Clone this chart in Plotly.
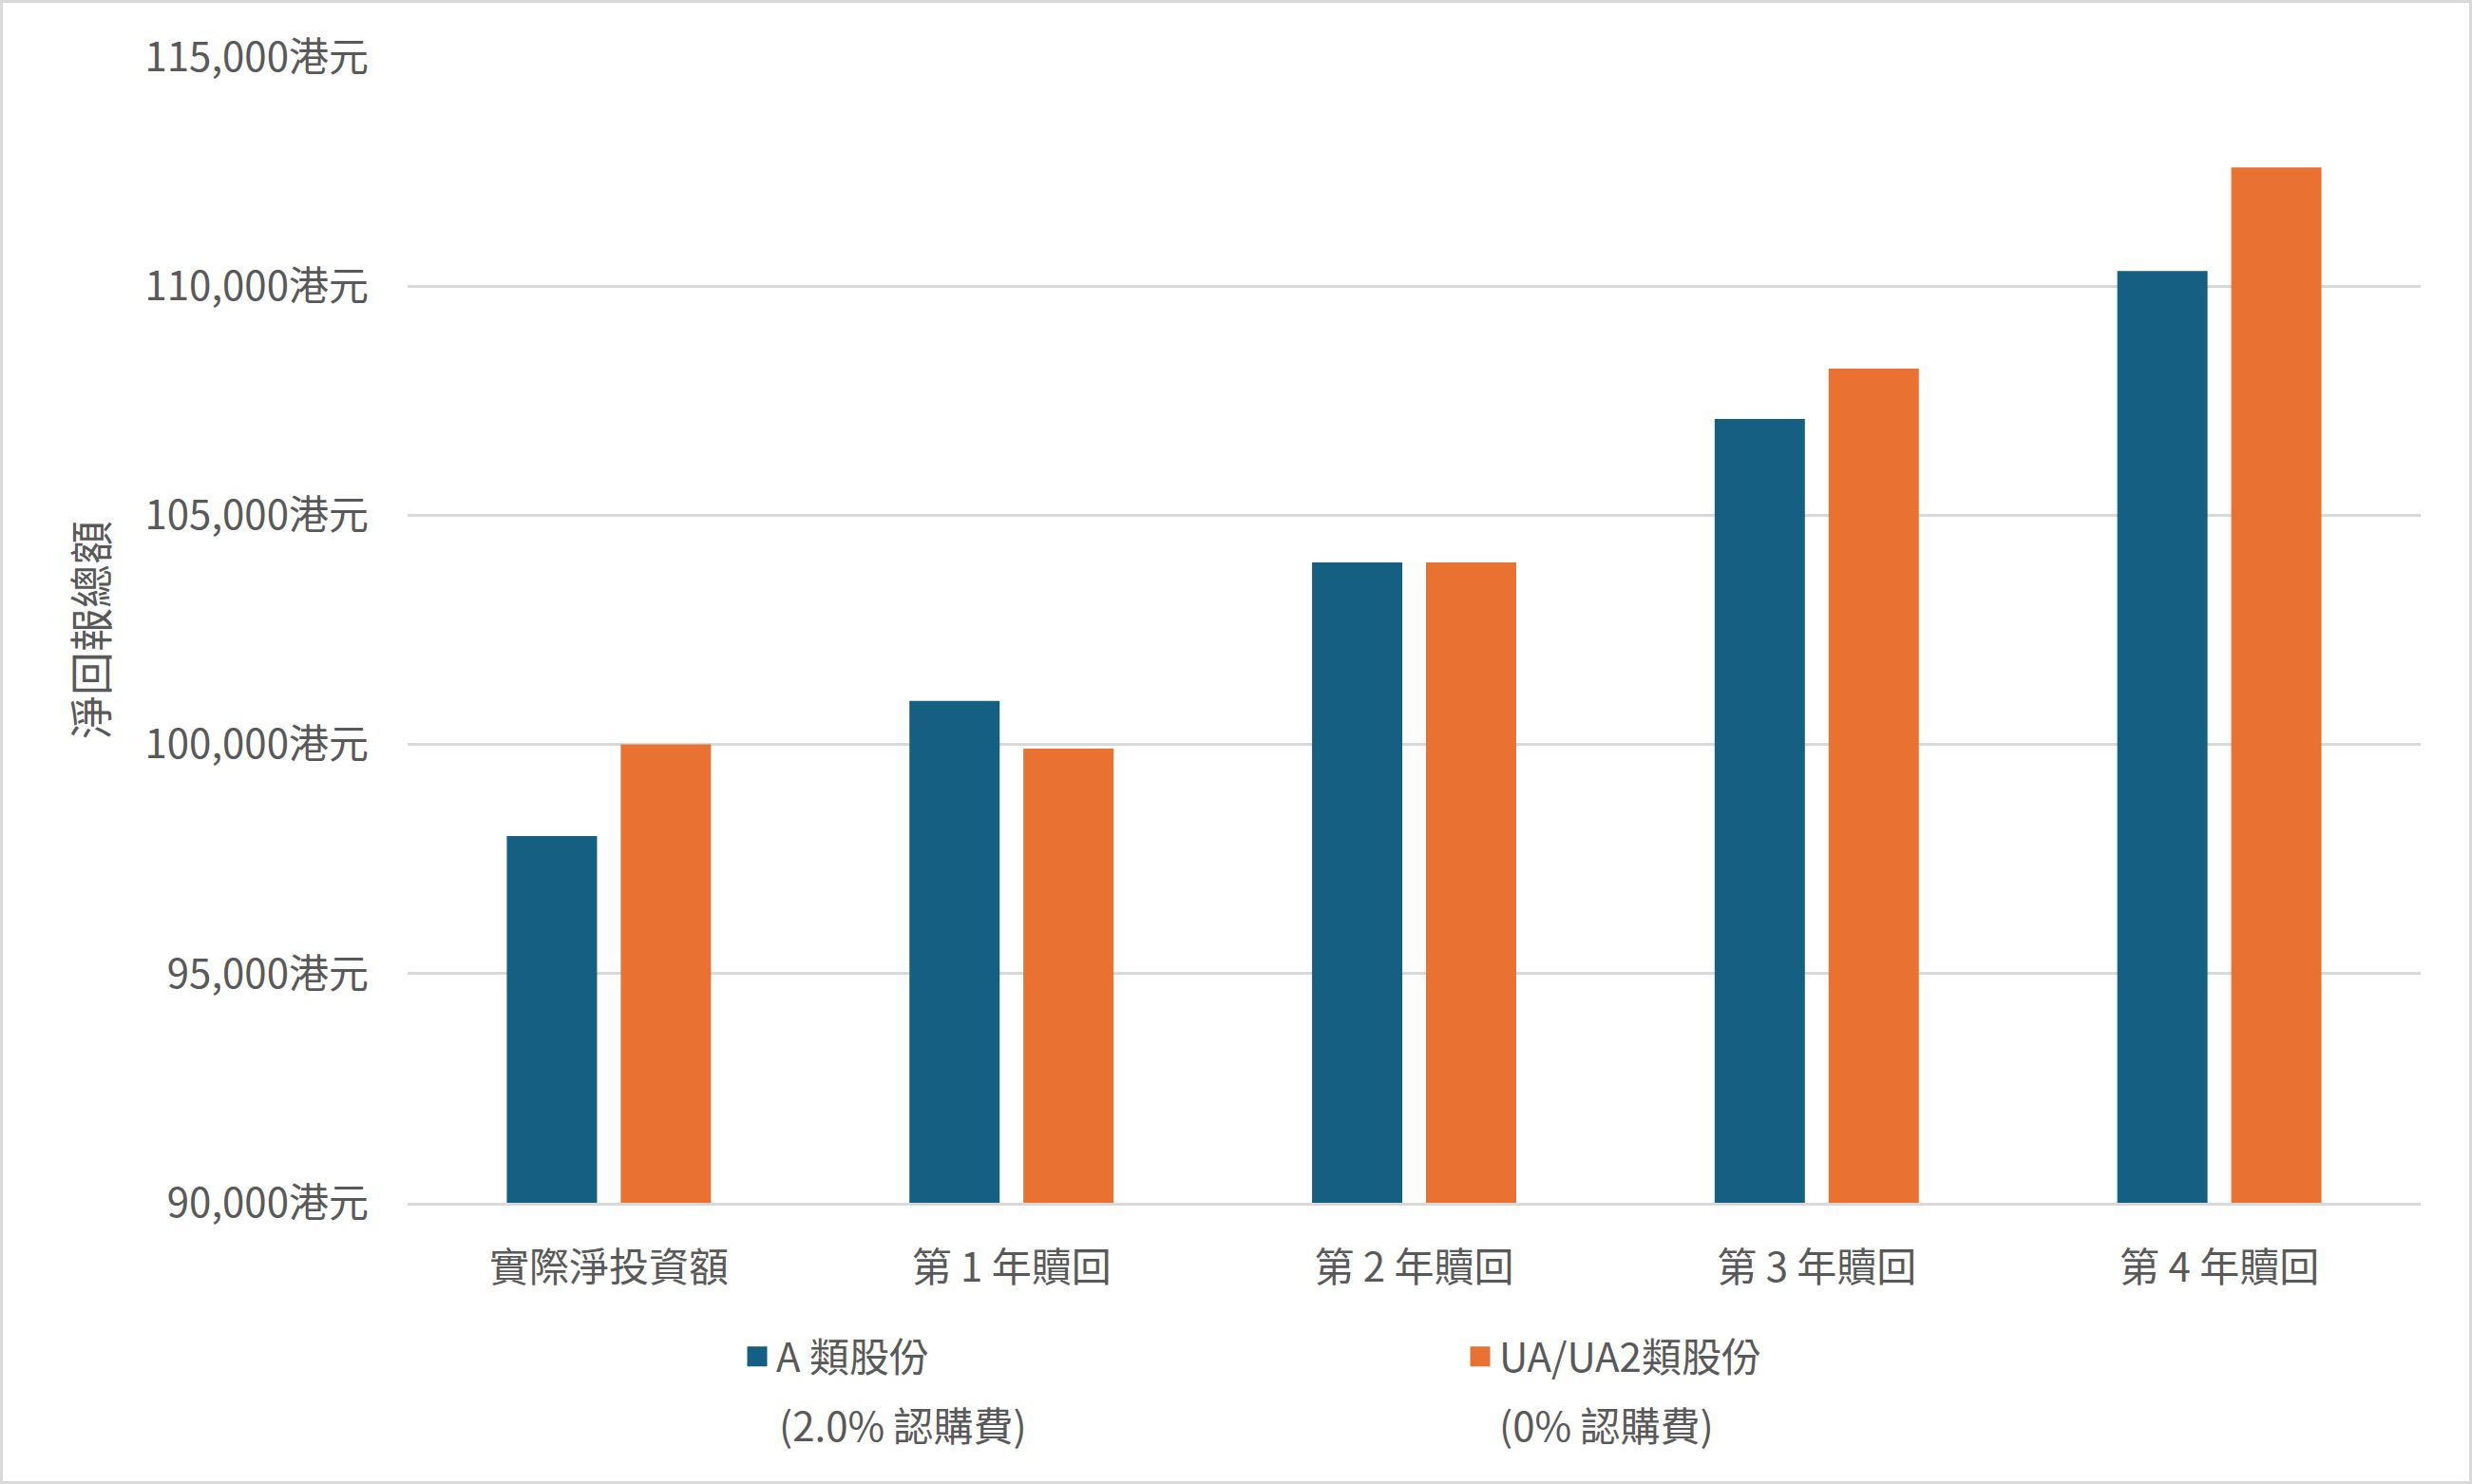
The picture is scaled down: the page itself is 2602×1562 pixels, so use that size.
import plotly.graph_objects as go

# ---- data ----
categories = ["實際淨投資額", "第 1 年贖回", "第 2 年贖回", "第 3 年贖回", "第 4 年贖回"]
class_a_values = [98000, 100950, 103970, 107100, 110330]
class_ua_values = [100000, 99910, 103970, 108200, 112590]
series_names = ["A 類股份", "UA/UA2類股份"]
series_fee_notes = ["(2.0% 認購費)", "(0% 認購費)"]
series_colors = ["#156082", "#E97132"]
y_tick_values = [90000, 95000, 100000, 105000, 110000, 115000]
y_tick_labels = ["90,000港元", "95,000港元", "100,000港元", "105,000港元", "110,000港元", "115,000港元"]
y_title = "淨回報總額"

W, H = 2602, 1562
ML, MR, MT, MB = 429, 54, 60, 296
FONT = "Noto Sans CJK TC"
TXT = "#595959"
GRID = "#d9d9d9"

pw = W - ML - MR
ph = H - MT - MB

fig = go.Figure()
for vals, name, col in zip([class_a_values, class_ua_values], series_names, series_colors):
    fig.add_trace(go.Bar(x=categories, y=vals, name=name, marker=dict(color=col, line=dict(width=0)),
                         showlegend=False, legendgroup=name))
# legend entries (larger square symbols)
for name, col in zip(series_names, series_colors):
    fig.add_trace(go.Scatter(x=[None], y=[None], mode="markers", name=name, legendgroup=name,
                             marker=dict(symbol="square", size=16, color=col, line=dict(color=col, width=5))))

# second line of each legend entry (subscription fee note)
for note, px_left in zip(series_fee_notes, [818, 1576]):
    fig.add_annotation(text=note, xref="paper", yref="paper",
                       x=(px_left - ML) / pw, y=-(1498 - (H - MB)) / ph,
                       xanchor="left", yanchor="middle", showarrow=False,
                       font=dict(family=FONT, size=42, color=TXT))

fig.add_shape(type="rect", xref="paper", yref="paper",
              x0=-(ML - 1.5) / pw, x1=1 + (MR - 1.5) / pw,
              y0=-(MB - 1.5) / ph, y1=1 + (MT - 1.5) / ph,
              line=dict(color=GRID, width=3), fillcolor="rgba(0,0,0,0)", layer="below")

fig.update_layout(
    width=W, height=H,
    margin=dict(l=ML, r=MR, t=MT, b=MB, autoexpand=False),
    paper_bgcolor="white", plot_bgcolor="white",
    font=dict(family=FONT, size=42, color=TXT),
    barmode="group", bargap=0.434, bargroupgap=0.208,
    legend=dict(orientation="h", xref="container", yref="container",
                x=777 / W, y=1 - 1394 / H, xanchor="left", yanchor="top",
                entrywidth=716, entrywidthmode="pixels", valign="middle",
                font=dict(family=FONT, size=42, color=TXT), bgcolor="rgba(0,0,0,0)"),
    xaxis=dict(showgrid=False, showline=True, linecolor=GRID, linewidth=3,
               ticks="", ticklabelstandoff=30, tickfont=dict(size=42, color=TXT), automargin=False),
    yaxis=dict(range=[90000, 115000], tickvals=y_tick_values, ticktext=y_tick_labels,
               showgrid=True, gridcolor=GRID, gridwidth=2.5, zeroline=False, showline=False,
               ticks="", ticklabelstandoff=40, tickfont=dict(size=42, color=TXT), automargin=False,
               title=dict(text=y_title, standoff=24, font=dict(size=46, color=TXT))),
)

fig.write_html("out.html")
